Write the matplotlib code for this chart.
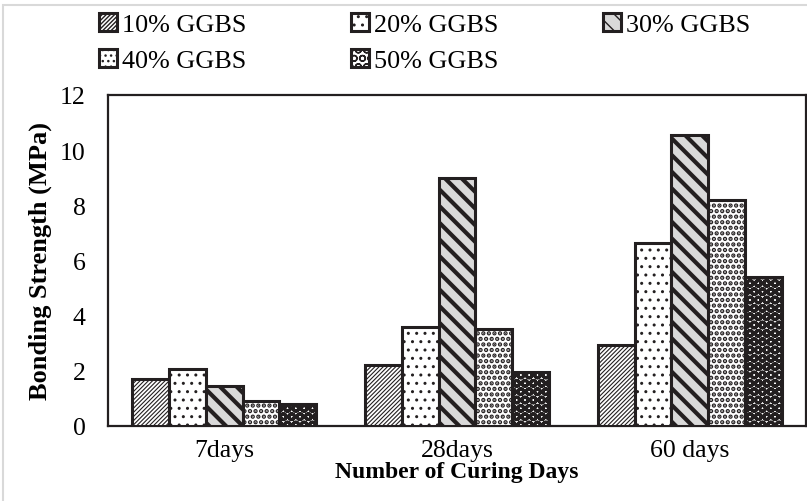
import matplotlib
matplotlib.use("Agg")
import matplotlib.pyplot as plt
import matplotlib.patches as mpatches
import numpy as np

categories = ["7days", "28days", "60 days"]
series_names = ["10% GGBS", "20% GGBS", "30% GGBS", "40% GGBS", "50% GGBS"]
s10 = [1.7, 2.2, 2.95]
s20 = [2.05, 3.6, 6.65]
s30 = [1.45, 9.0, 10.55]
s40 = [0.9, 3.5, 8.2]
s50 = [0.8, 1.95, 5.4]
yticks = [0, 2, 4, 6, 8, 10, 12]

series = [s10, s20, s30, s40, s50]
hatches = ["////////", "..", "\\\\", "...", "OO"]
faces = ["white", "white", "#d9d9d9", "white", "white"]
hatch_lws = [0.8, 1.0, 3.0, 2.2, 2.2]

plt.rcParams["font.family"] = ["Liberation Serif", "DejaVu Serif"]

fig = plt.figure(figsize=(8.07, 5.02), dpi=100)
ax = fig.add_axes([108/807, 1-427/502, (806-108)/807, (427-96)/502])

x = np.arange(len(categories))
bw = 0.158
edge = "#231f20"
handles = []
for i, (vals, h, fc, hl) in enumerate(zip(series, hatches, faces, hatch_lws)):
    with plt.rc_context({"hatch.linewidth": hl, "hatch.color": edge}):
        bars = ax.bar(x + (i - 2) * bw, vals, bw, color=fc, edgecolor=edge,
                      linewidth=2.2, hatch=h, label=series_names[i], zorder=3)
        for b in bars:
            try:
                b.set_hatch_linewidth(hl)
            except Exception:
                pass
    handles.append(bars)

ax.set_xlim(-0.5, 2.5)
ax.set_ylim(0, 12)
ax.set_yticks(yticks)
ax.set_xticks(x)
ax.set_xticklabels(categories, fontsize=18.5)
ax.tick_params(axis="y", labelsize=18.5, length=0, pad=16)
ax.tick_params(axis="x", length=0, pad=9.5)
for s in ax.spines.values():
    s.set_color(edge)
    s.set_linewidth(1.6)

ax.set_ylabel("Bonding Strength (MPa)", fontsize=19, fontweight="bold", labelpad=6)
ax.set_xlabel("Number of Curing Days", fontsize=17, fontweight="bold", labelpad=0)

order = [0, 3, 1, 4, 2]
leg = fig.legend(handles=[handles[k] for k in order],
                 labels=[series_names[k] for k in order], loc="upper left",
                 bbox_to_anchor=(99/807, 1-14/502), ncol=3, frameon=False,
                 fontsize=18.8, handlelength=0.69, handleheight=0.69,
                 handletextpad=0.19, columnspacing=4.0, labelspacing=0.5,
                 borderaxespad=0, borderpad=0)

# light chart-area border
fig.patches.append(mpatches.Rectangle((3/807, -0.1), 2, (496/502) + 0.1,
                                      transform=fig.transFigure, fill=False,
                                      edgecolor="#d9d9d9", linewidth=1.5))

fig.savefig("out.png", dpi=100)
